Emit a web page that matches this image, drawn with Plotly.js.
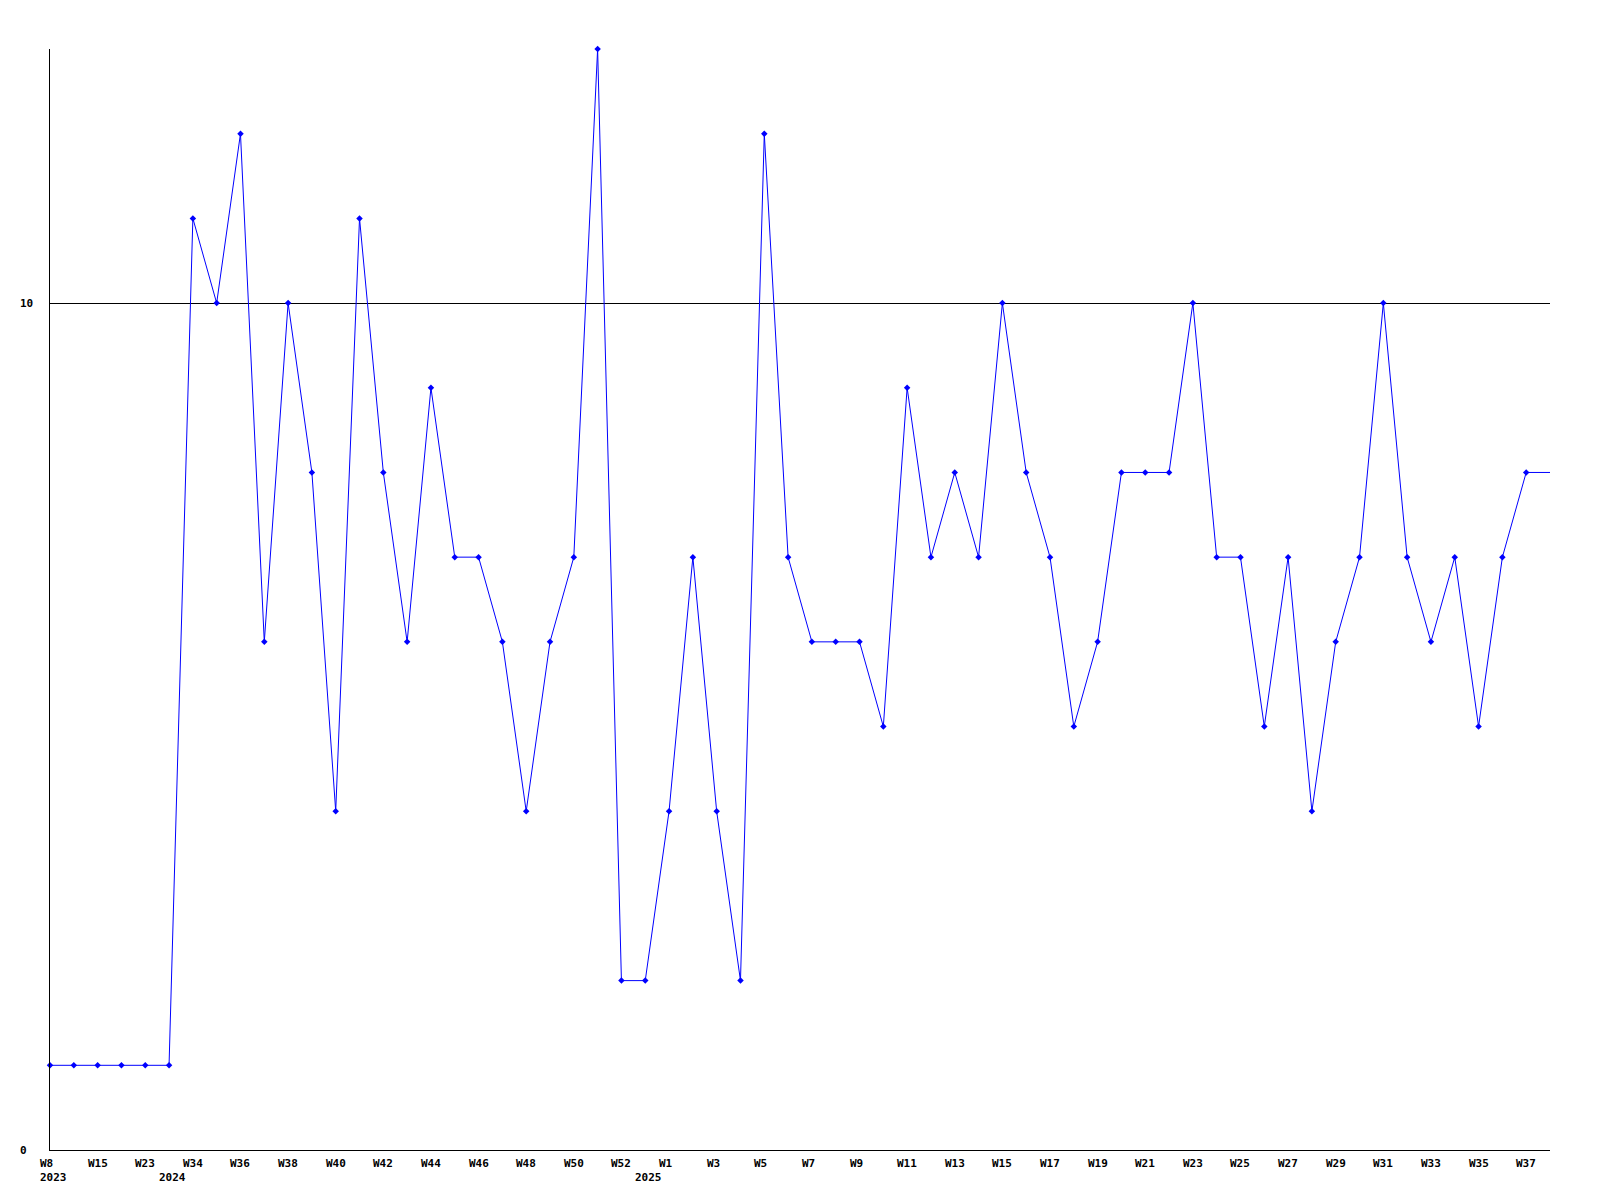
<!DOCTYPE html>
<html>
<head>
<meta charset="utf-8">
<script src="https://cdn.plot.ly/plotly-3.0.1.min.js"></script>
<style>html,body{margin:0;padding:0;background:#fff;}#chart{width:1600px;height:1200px;}</style>
</head>
<body>
<div id="chart"></div>
<script>
// Week categories (every other one is labelled on the axis)
const weeks = ["W8","W11","W15","W19","W23","W33","W34","W35","W36","W37","W38","W39","W40","W41","W42","W43","W44","W45","W46","W47","W48","W49","W50","W51","W52","W0","W1","W2","W3","W4","W5","W6","W7","W8","W9","W10","W11","W12","W13","W14","W15","W16","W17","W18","W19","W20","W21","W22","W23","W24","W25","W26","W27","W28","W29","W30","W31","W32","W33","W34","W35","W36","W37"];
const years = [2023,2023,2023,2023,2023,2024,2024,2024,2024,2024,2024,2024,2024,2024,2024,2024,2024,2024,2024,2024,2024,2024,2024,2024,2024,2025,2025,2025,2025,2025,2025,2025,2025,2025,2025,2025,2025,2025,2025,2025,2025,2025,2025,2025,2025,2025,2025,2025,2025,2025,2025,2025,2025,2025,2025,2025,2025,2025,2025,2025,2025,2025,2025];
const values = [1,1,1,1,1,1,11,10,12,6,10,8,4,11,8,6,9,7,7,6,4,6,7,13,2,2,4,7,4,2,12,7,6,6,6,5,9,7,8,7,10,8,7,5,6,8,8,8,10,7,7,5,7,4,6,7,10,7,6,7,5,7,8];
const yTicks = [0, 10];

const idx = weeks.map((_, i) => i);
const n = weeks.length;
const labelFont = {family: "DejaVu Sans Mono, monospace", size: 11, color: "#000", weight: "bold"};

const traces = [
  {
    x: idx, y: values, type: "scatter", mode: "lines+markers",
    line: {color: "#0000ff", width: 1},
    marker: {symbol: "diamond", size: 5, color: "#0000ff"},
    cliponaxis: false,
    hoverinfo: "skip", showlegend: false
  },
  {
    // flat continuation of the last value to the right edge of the plot
    x: [n - 1, n], y: [values[n - 1], values[n - 1]], type: "scatter", mode: "lines",
    line: {color: "#0000ff", width: 1}, hoverinfo: "skip", showlegend: false
  }
];

const annotations = [];
idx.forEach(i => {
  if (i % 2 === 0) {
    annotations.push({x: i, xref: "x", y: 0, yref: "paper", text: weeks[i], showarrow: false,
      xanchor: "left", yanchor: "top", xshift: -12, yshift: -5, font: labelFont});
  }
  if (i === 0 || years[i] !== years[i - 1]) {
    annotations.push({x: i, xref: "x", y: 0, yref: "paper", text: String(years[i]), showarrow: false,
      xanchor: "left", yanchor: "top", xshift: -12, yshift: -19, font: labelFont});
  }
});
yTicks.forEach(v => {
  annotations.push({x: 0, xref: "paper", y: v, yref: "y", text: String(v), showarrow: false,
    xanchor: "left", yanchor: "middle", xshift: -32, font: labelFont});
});

const layout = {
  width: 1600, height: 1200,
  margin: {l: 50, r: 50, t: 49, b: 50, pad: 0},
  paper_bgcolor: "#fff", plot_bgcolor: "#fff",
  showlegend: false,
  xaxis: {range: [0, n], showgrid: false, zeroline: false, showline: true, linecolor: "#000", linewidth: 1,
    ticks: "", showticklabels: false, fixedrange: true},
  yaxis: {range: [0, 13], tickvals: yTicks, showgrid: true, gridcolor: "#000", gridwidth: 1,
    zeroline: false, showline: true, linecolor: "#000", linewidth: 1, ticks: "", showticklabels: false, fixedrange: true},
  annotations: annotations
};

Plotly.newPlot("chart", traces, layout, {staticPlot: true, displayModeBar: false});
</script>
</body>
</html>
